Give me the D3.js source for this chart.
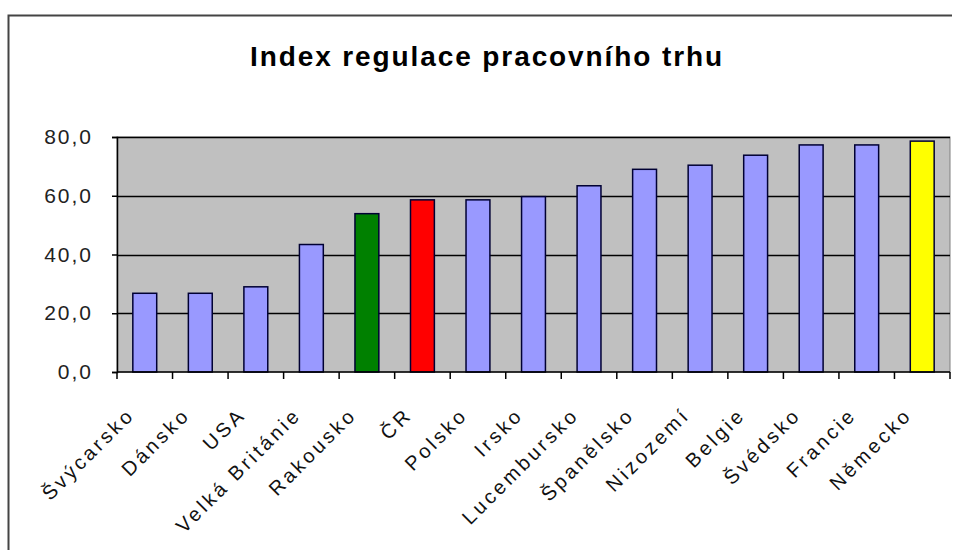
<!DOCTYPE html>
<html>
<head>
<meta charset="utf-8">
<script src="https://cdn.jsdelivr.net/npm/d3@7"></script>
<style>
  body { margin: 0; background: #fff; overflow: hidden; }
  svg { display: block; }
</style>
</head>
<body>
<svg id="chart" width="956" height="550"></svg>
<script>
// data
var countries = ["Švýcarsko", "Dánsko", "USA", "Velká Británie", "Rakousko", "ČR", "Polsko", "Irsko",
                 "Lucembursko", "Španělsko", "Nizozemí", "Belgie", "Švédsko", "Francie", "Německo"];
var values = [26.8, 26.8, 29.0, 43.4, 53.9, 58.6, 58.6, 59.7, 63.4, 69.0, 70.4, 73.8, 77.3, 77.3, 78.6];
var yTicks = [0, 20, 40, 60, 80];
var barColors = ["#9999ff", "#9999ff", "#9999ff", "#9999ff", "#008000", "#ff0000", "#9999ff", "#9999ff",
                 "#9999ff", "#9999ff", "#9999ff", "#9999ff", "#9999ff", "#9999ff", "#ffff00"];

var svg = d3.select("#chart");
var font = "'Liberation Sans', Arial, sans-serif";

var plot = {left: 117, right: 950, top: 137, bottom: 372};

// outer chart frame (only left and top edges are inside the picture)
svg.append("path")
  .attr("d", "M8.5,560 V15.5 H960")
  .attr("fill", "none")
  .attr("stroke", "#444")
  .attr("stroke-width", 2);

svg.append("text")
  .attr("x", 487).attr("y", 66)
  .attr("text-anchor", "middle")
  .style("font-family", font)
  .style("font-size", "28px")
  .style("font-weight", "bold")
  .style("letter-spacing", "1.9px")
  .text("Index regulace pracovního trhu");

var x = d3.scaleBand()
  .domain(countries)
  .range([plot.left, plot.right])
  .paddingInner(0.57)
  .paddingOuter(0.285);

var y = d3.scaleLinear()
  .domain([0, 80])
  .range([plot.bottom, plot.top]);

// plot area background
svg.append("rect")
  .attr("x", plot.left).attr("y", plot.top)
  .attr("width", plot.right - plot.left).attr("height", plot.bottom - plot.top)
  .attr("fill", "#c0c0c0")
  .attr("stroke", "#808080")
  .attr("stroke-width", 1);

// gridlines
svg.append("g").selectAll("line")
  .data(yTicks.filter(function(d){ return d > 0; }))
  .enter().append("line")
  .attr("x1", plot.left).attr("x2", plot.right)
  .attr("y1", function(d){ return Math.round(y(d)) + 0.5; })
  .attr("y2", function(d){ return Math.round(y(d)) + 0.5; })
  .attr("stroke", "#000")
  .attr("stroke-width", 1.5);

// bars
svg.append("g").selectAll("rect")
  .data(values)
  .enter().append("rect")
  .attr("x", function(d, i){ return x(countries[i]); })
  .attr("y", function(d){ return y(d); })
  .attr("width", x.bandwidth())
  .attr("height", function(d){ return y(0) - y(d); })
  .attr("fill", function(d, i){ return barColors[i]; })
  .attr("stroke", "#000033")
  .attr("stroke-width", 1.5);

// y axis
var yAxis = svg.append("g")
  .attr("transform", "translate(" + plot.left + ",0)")
  .call(d3.axisLeft(y).tickValues(yTicks).tickSize(5).tickPadding(19)
    .tickFormat(function(d){ return d3.format(".1f")(d).replace(".", ","); }));
yAxis.select(".domain").attr("stroke", "#000").attr("stroke-width", 1.5);
yAxis.selectAll(".tick line").attr("stroke", "#000").attr("stroke-width", 1.5);
yAxis.selectAll("text")
  .style("font-family", font)
  .style("font-size", "21px")
  .style("letter-spacing", "2px")
  .attr("fill", "#222");

// x axis: ticks on category boundaries
var step = x.step();
var xAxis = svg.append("g")
  .attr("transform", "translate(0," + plot.bottom + ")");
xAxis.append("line")
  .attr("x1", plot.left).attr("x2", plot.right)
  .attr("stroke", "#000").attr("stroke-width", 1.5);
xAxis.selectAll(".tk")
  .data(d3.range(countries.length + 1))
  .enter().append("line")
  .attr("x1", function(i){ return plot.left + i * step; })
  .attr("x2", function(i){ return plot.left + i * step; })
  .attr("y1", 0).attr("y2", 7)
  .attr("stroke", "#000").attr("stroke-width", 1.5);

xAxis.selectAll(".lbl")
  .data(countries)
  .enter().append("text")
  .attr("text-anchor", "end")
  .attr("transform", function(d){
    var cx = x(d) + x.bandwidth() / 2 - 9;
    return "translate(" + cx + ",44) rotate(-45)";
  })
  .style("font-family", font)
  .style("font-size", "20px")
  .style("letter-spacing", "3.2px")
  .attr("fill", "#111")
  .text(function(d){ return d; });

// keep the frame open on the right, as in the cropped original
svg.append("rect")
  .attr("x", 952).attr("y", 0)
  .attr("width", 4).attr("height", 550)
  .attr("fill", "#fff");
</script>
</body>
</html>
